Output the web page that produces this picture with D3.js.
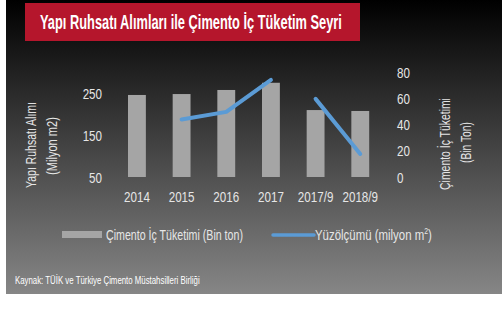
<!DOCTYPE html>
<html>
<head>
<meta charset="utf-8">
<script src="https://cdn.jsdelivr.net/npm/d3@7/dist/d3.min.js"></script>
<style>
  html, body { margin: 0; padding: 0; background: #fff; }
  svg { display: block; }
  text { font-family: "Liberation Sans", Arial, sans-serif; }
</style>
</head>
<body>
<svg id="chart" width="502" height="322"></svg>
<script>
// Categories on the x axis
const categories = ["2014", "2015", "2016", "2017", "2017/9", "2018/9"];
// Çimento iç tüketimi (bars, right axis)
const cementValues = [62.5, 63.2, 66.3, 71.8, 51.0, 50.3];
// Yapı ruhsatı yüzölçümü (line, left axis); 2014 has no value
const permitValues = [null, 187, 205, 281, 236, 105];
// Annual figures and nine-month figures are drawn as separate line pieces
const permitPeriods = ["yıl", "yıl", "yıl", "yıl", "9ay", "9ay"];
// Axis ticks
const leftTicks = [50, 150, 250];
const rightTicks = [0, 20, 40, 60, 80];

const svg = d3.select("#chart");
const labelColor = "#e6e6e6";

// Narrow a text element horizontally around its anchor point so it spans `width` px.
function narrowTo(sel, width, anchorX) {
  const w = sel.node().getBBox().width;
  const k = width / w;
  sel.attr("transform", `translate(${anchorX},0) scale(${k},1) translate(${-anchorX},0)`);
}

// Background panel with a dark-to-gray vertical gradient
const defs = svg.append("defs");
const grad = defs.append("linearGradient")
  .attr("id", "bg").attr("x1", 0).attr("y1", 0).attr("x2", 0).attr("y2", 1);
grad.append("stop").attr("offset", "0%").attr("stop-color", "#000000");
grad.append("stop").attr("offset", "100%").attr("stop-color", "#868686");
svg.append("rect").attr("x", 6).attr("y", 0).attr("width", 496).attr("height", 294)
  .attr("fill", "url(#bg)");

// Title box
svg.append("rect").attr("x", 25).attr("y", 3).attr("width", 335).attr("height", 38)
  .attr("fill", "#b5162c");
const title = svg.append("text").attr("x", 40).attr("y", 29.5)
  .attr("fill", "#ffffff").attr("font-size", 19.5).attr("font-weight", "bold")
  .text("Yapı Ruhsatı Alımları ile Çimento İç Tüketim Seyri");
narrowTo(title, 302, 40);

// Scales
const x = d3.scaleBand().domain(categories).range([114.6, 382.6])
  .paddingInner(0.6).paddingOuter(0.3);
const yLeft = d3.scaleLinear().domain([50, 300]).range([177, 72]);
const yRight = d3.scaleLinear().domain([0, 80]).range([177, 72]);

// Bars
svg.append("g").selectAll("rect").data(categories).join("rect")
  .attr("x", d => x(d))
  .attr("width", x.bandwidth())
  .attr("y", (d, i) => yRight(cementValues[i]))
  .attr("height", (d, i) => yRight(0) - yRight(cementValues[i]))
  .attr("fill", "#a5a5a5");

// Line pieces
const pts = categories.map((c, i) => ({ c, v: permitValues[i], p: permitPeriods[i] }))
  .filter(d => d.v != null);
const line = d3.line().x(d => x(d.c) + x.bandwidth() / 2).y(d => yLeft(d.v));
const groups = d3.groups(pts, d => d.p);
svg.append("g").selectAll("path").data(groups).join("path")
  .attr("d", d => line(d[1]))
  .attr("fill", "none").attr("stroke", "#5b9bd5").attr("stroke-width", 4)
  .attr("stroke-linecap", "round").attr("stroke-linejoin", "round");

// Axes
const axL = svg.append("g").attr("transform", "translate(102,0)")
  .call(d3.axisLeft(yLeft).tickValues(leftTicks).tickSize(0).tickPadding(0));
const axR = svg.append("g").attr("transform", "translate(397,0)")
  .call(d3.axisRight(yRight).tickValues(rightTicks).tickSize(0).tickPadding(0));
const axB = svg.append("g").attr("transform", "translate(0,191.5)")
  .call(d3.axisBottom(x).tickSize(0).tickPadding(0));
[axL, axR, axB].forEach(a => {
  a.select(".domain").remove();
  a.selectAll("text").attr("fill", labelColor).attr("font-size", 14.5)
    .attr("font-family", "\"Liberation Sans\", Arial, sans-serif")
    .attr("transform", "scale(0.8,1)");
});
axB.selectAll("text").attr("dy", "0.71em");
axL.selectAll("text").attr("dy", "0.35em");
axR.selectAll("text").attr("dy", "0.35em");

// Axis titles (rotated, each line narrowed along its reading direction)
function rotatedLine(cy, baseX, txt, len) {
  const t = svg.append("text").attr("x", 0).attr("y", 0)
    .attr("text-anchor", "middle").attr("fill", labelColor).attr("font-size", 14)
    .text(txt);
  const k = len / t.node().getBBox().width;
  t.attr("transform", `translate(${baseX},${cy}) rotate(-90) scale(${k},1)`);
  return t;
}
rotatedLine(145, 35.5, "Yapı Ruhsatı Alımı", 86);
rotatedLine(146, 56.5, "(Milyon m2)", 58);
rotatedLine(144, 449.5, "Çimento İç Tüketimi", 92);
rotatedLine(142.5, 470.5, "(Bin Ton)", 41);

// Legend
const lg = svg.append("g");
lg.append("rect").attr("x", 62).attr("y", 231).attr("width", 40).attr("height", 7).attr("fill", "#a5a5a5");
const l1 = lg.append("text").attr("x", 106).attr("y", 240).attr("fill", labelColor).attr("font-size", 15)
  .text("Çimento İç Tüketimi (Bin ton)");
narrowTo(l1, 137, 106);
lg.append("line").attr("x1", 273).attr("x2", 314).attr("y1", 235).attr("y2", 235)
  .attr("stroke", "#5b9bd5").attr("stroke-width", 3.5).attr("stroke-linecap", "round");
const l2 = lg.append("text").attr("x", 315).attr("y", 240).attr("fill", labelColor).attr("font-size", 15);
l2.append("tspan").text("Yüzölçümü (milyon  m");
l2.append("tspan").attr("font-size", 9).attr("dy", -5.5).text("2");
l2.append("tspan").attr("dy", 5.5).text(")");
narrowTo(l2, 117, 315);

// Source note
const src = svg.append("text").attr("x", 15).attr("y", 284).attr("fill", "#ffffff")
  .attr("font-size", 10.5).text("Kaynak: TÜİK ve Türkiye Çimento Müstahsilleri Birliği");
narrowTo(src, 185, 15);
</script>
</body>
</html>
